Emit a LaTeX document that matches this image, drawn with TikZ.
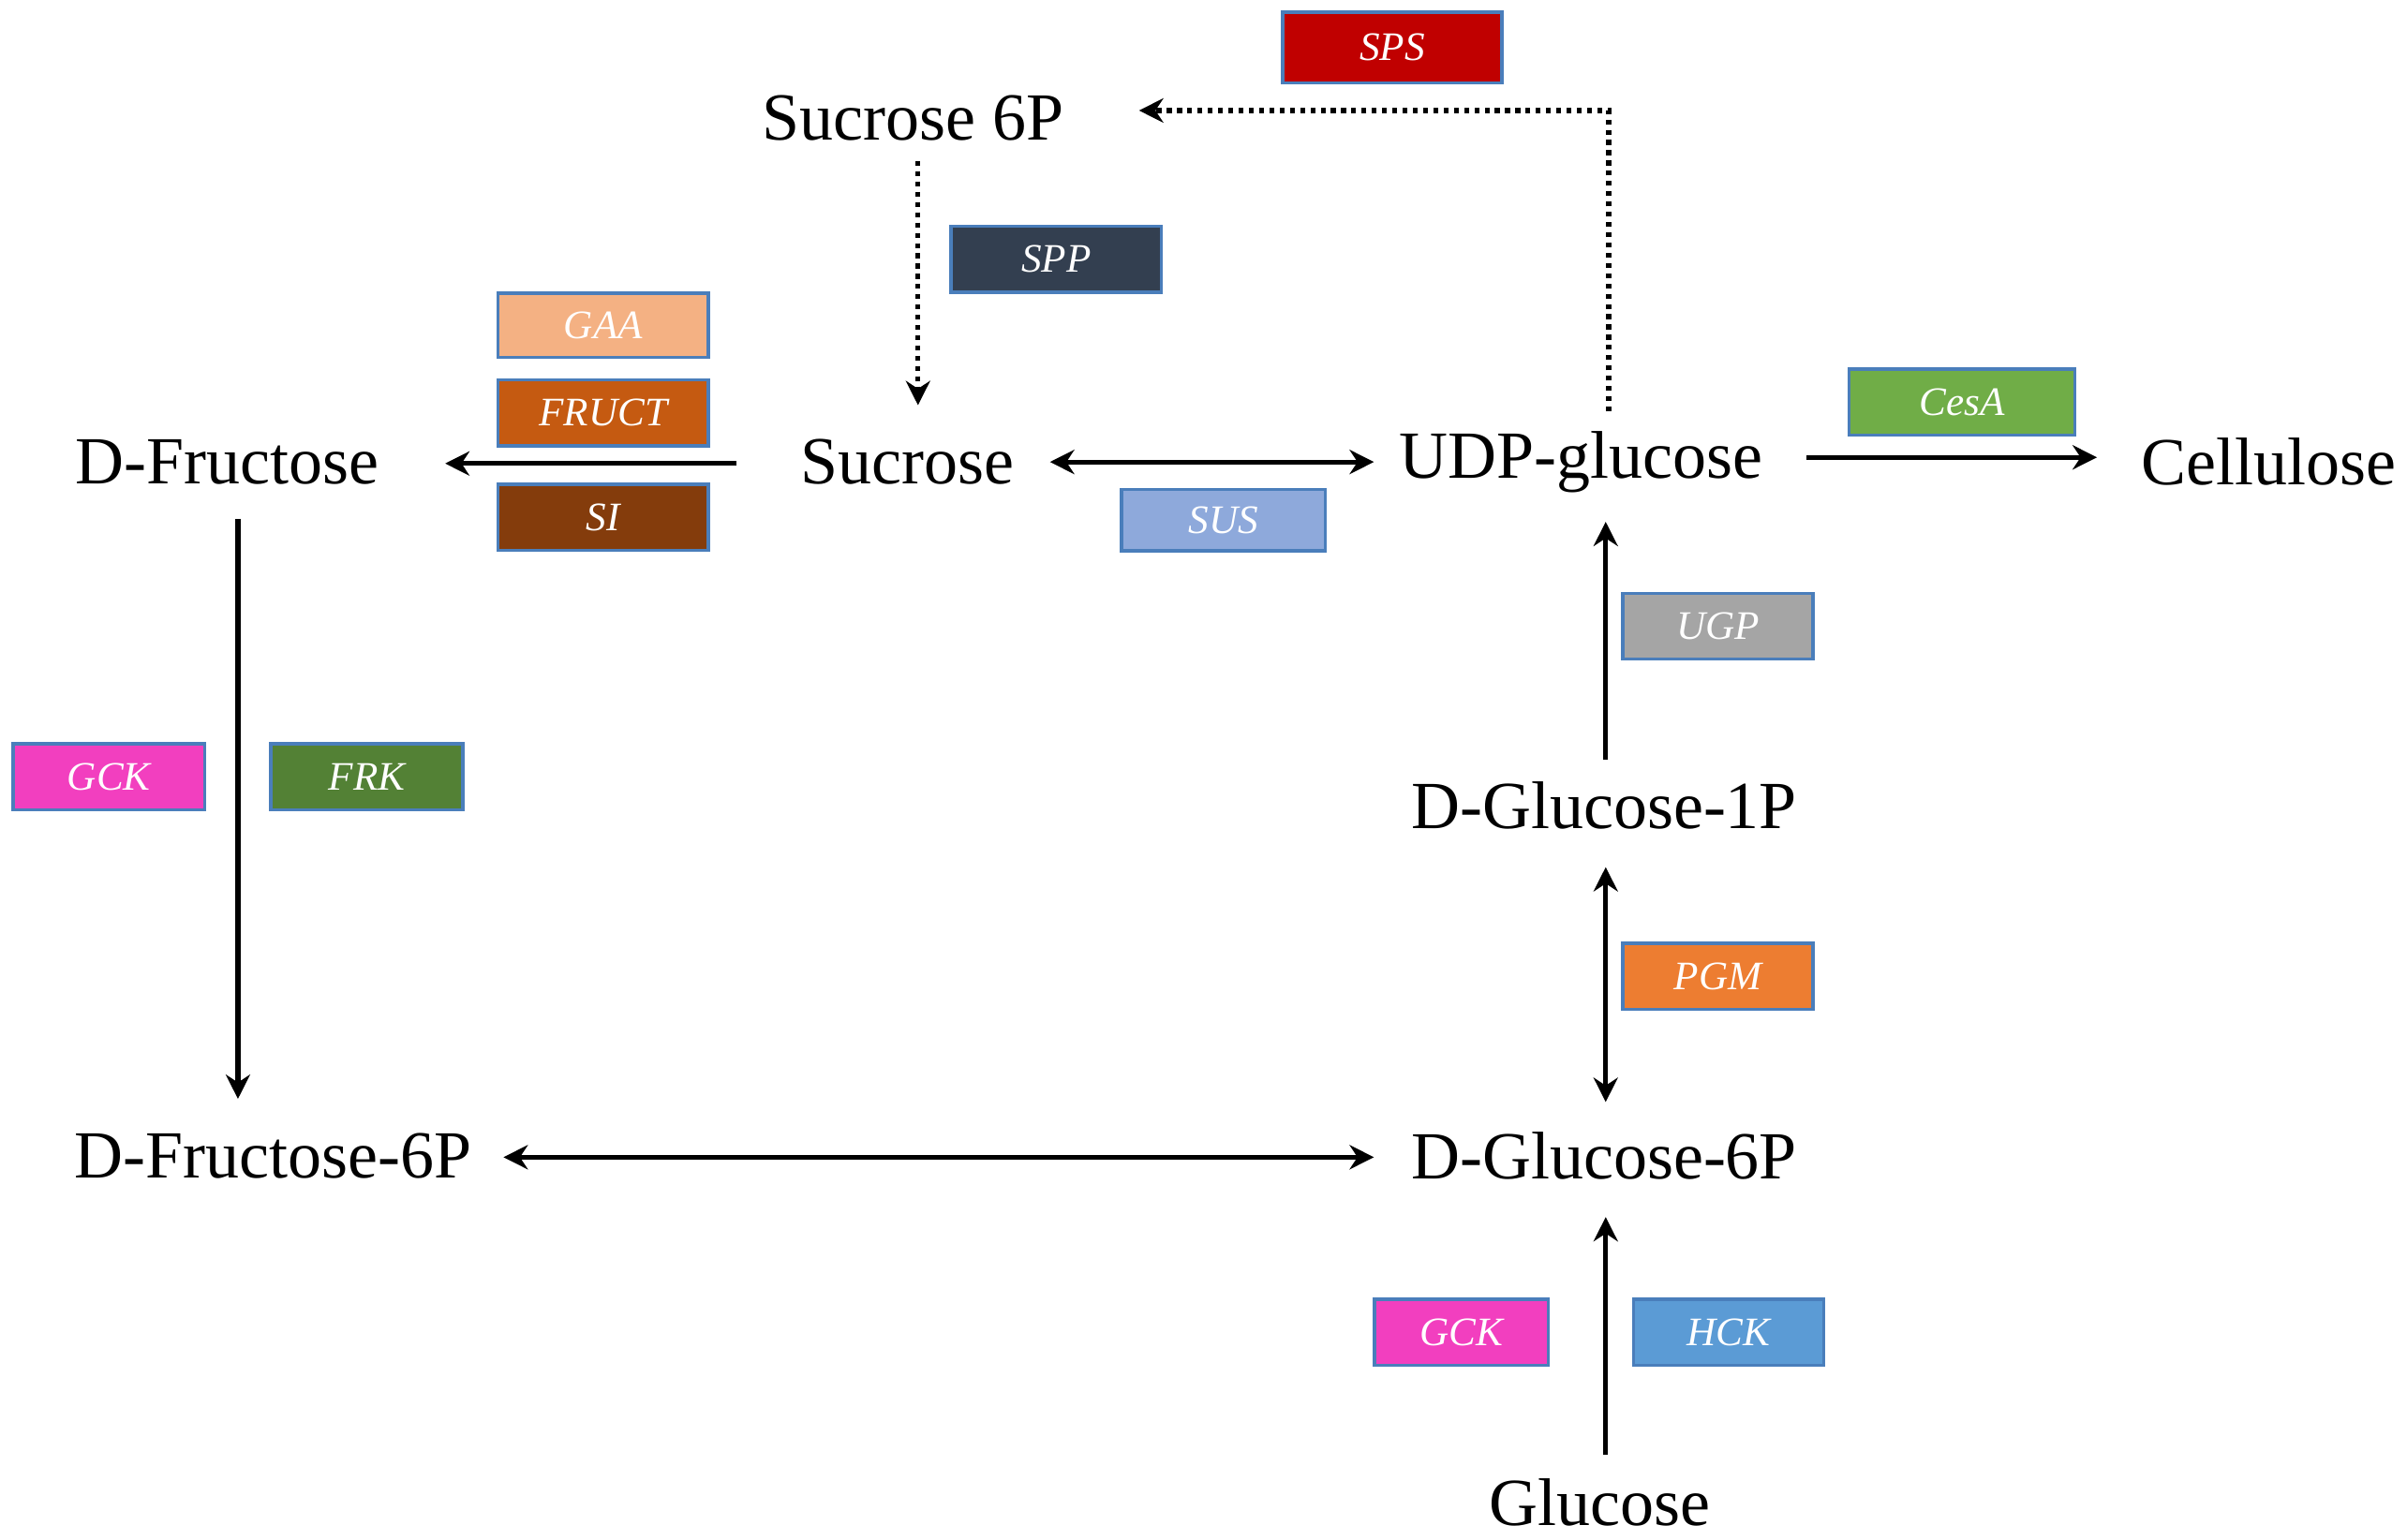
\documentclass[tikz,border=0pt]{standalone}
\usepackage{fontspec}
\setmainfont{Liberation Serif}
\usetikzlibrary{arrows.meta}
\begin{document}
\begin{tikzpicture}[x=0.02cm,y=-0.02cm,
  met/.style={font=\fontsize{25}{29}\selectfont, inner sep=0pt},
  enz/.style={draw=eborder, line width=1.2pt, minimum height=0.86cm, text=white, font=\fontsize{15}{18}\selectfont\itshape, inner sep=0pt},
  arr/.style={line width=1.8pt, -{Stealth[length=9pt,width=9pt]}},
  barr/.style={line width=1.8pt, {Stealth[length=9pt,width=9pt]}-{Stealth[length=9pt,width=9pt]}},
  darr/.style={line width=1.8pt, dotted, -{Stealth[length=9pt,width=9pt]}}]
\definecolor{eborder}{HTML}{4A7EBB}
\definecolor{cSPS}{HTML}{C00000}
\definecolor{cSPP}{HTML}{333F50}
\definecolor{cGAA}{HTML}{F4B183}
\definecolor{cFRUCT}{HTML}{C55A11}
\definecolor{cSI}{HTML}{843C0C}
\definecolor{cSUS}{HTML}{8EA9DB}
\definecolor{cCesA}{HTML}{70AD47}
\definecolor{cUGP}{HTML}{A5A5A5}
\definecolor{cGCK}{HTML}{F23FBF}
\definecolor{cFRK}{HTML}{538135}
\definecolor{cPGM}{HTML}{ED7D31}
\definecolor{cHCK}{HTML}{5B9BD5}
\useasboundingbox (0,0) rectangle (1568,1003);
% metabolites
\node[met] (s6p) at (595,77) {Sucrose 6P};
\node[met] (suc) at (591,301) {Sucrose};
\node[met] (fru) at (148,301) {D-Fructose};
\node[met] (udp) at (1030,301) {UDP-glucose};
\node[met] (cel) at (1478,301) {Cellulose};
\node[met] (g1p) at (1045,525) {D-Glucose-1P};
\node[met] (g6p) at (1045,753) {D-Glucose-6P};
\node[met] (f6p) at (178,753) {D-Fructose-6P};
\node[met] (glc) at (1042,979) {Glucose};
% anchor coordinates
\coordinate (a1) at (598,105); \coordinate (a2) at (598,264);
\coordinate (b1) at (1048,268); \coordinate (b2) at (1048,72); \coordinate (b3) at (742,72);
\coordinate (c1) at (480,302); \coordinate (c2) at (290,302);
\coordinate (d1) at (684,301); \coordinate (d2) at (895,301);
\coordinate (e1) at (1177,298); \coordinate (e2) at (1366,298);
\coordinate (f1) at (155,338); \coordinate (f2) at (155,716);
\coordinate (g1) at (328,754); \coordinate (g2) at (895,754);
\coordinate (h1) at (1046,565); \coordinate (h2) at (1046,718);
\coordinate (i1) at (1046,495); \coordinate (i2) at (1046,340);
\coordinate (j1) at (1046,948); \coordinate (j2) at (1046,793);
\draw[darr] (a1) -- (a2);
\draw[darr] (b1) -- (b2) -- (b3);
\draw[arr] (c1) -- (c2);
\draw[barr] (d1) -- (d2);
\draw[arr] (e1) -- (e2);
\draw[arr] (f1) -- (f2);
\draw[barr] (g1) -- (g2);
\draw[barr] (h1) -- (h2);
\draw[arr] (i1) -- (i2);
\draw[arr] (j1) -- (j2);
% enzymes
\node[enz, fill=cSPS, minimum width=2.86cm, minimum height=0.92cm] (sps) at (907,31) {SPS};
\node[enz, fill=cSPP, minimum width=2.74cm] (spp) at (688,169) {SPP};
\node[enz, fill=cGAA, minimum width=2.74cm, minimum height=0.84cm] (gaa) at (393,212) {GAA};
\node[enz, fill=cFRUCT, minimum width=2.74cm] (fruct) at (393,269) {FRUCT};
\node[enz, fill=cSI, minimum width=2.74cm] (si) at (393,337) {SI};
\node[enz, fill=cSUS, minimum width=2.66cm, minimum height=0.8cm] (sus) at (797,339) {SUS};
\node[enz, fill=cCesA, minimum width=2.94cm] (cesa) at (1278,262) {CesA};
\node[enz, fill=cUGP, minimum width=2.48cm] (ugp) at (1119,408) {UGP};
\node[enz, fill=cGCK, minimum width=2.5cm] (gck1) at (71,506) {GCK};
\node[enz, fill=cFRK, minimum width=2.5cm] (frk) at (239,506) {FRK};
\node[enz, fill=cPGM, minimum width=2.48cm] (pgm) at (1119,636) {PGM};
\node[enz, fill=cGCK, minimum width=2.26cm] (gck2) at (952,868) {GCK};
\node[enz, fill=cHCK, minimum width=2.48cm] (hck) at (1126,868) {HCK};
\end{tikzpicture}
\end{document}
